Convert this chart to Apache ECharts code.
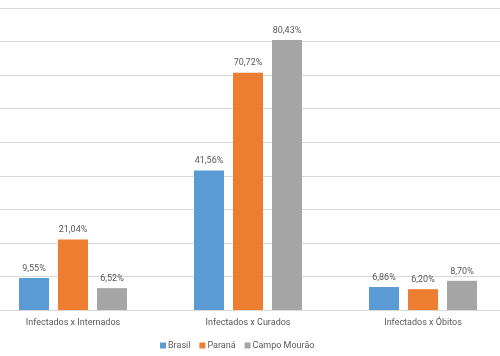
<!DOCTYPE html>
<html><head><meta charset="utf-8">
<script src="https://cdn.jsdelivr.net/npm/echarts@6/dist/echarts.min.js"></script>
<style>html,body{margin:0;padding:0;background:#fff}#c{width:500px;height:356px}</style>
</head><body><div id="c"></div>
<script>
const categories = ['Infectados x Internados', 'Infectados x Curados', 'Infectados x Óbitos'];
const seriesNames = ['Brasil', 'Paraná', 'Campo Mourão'];
const brasil = [9.55, 41.56, 6.86];
const parana = [21.04, 70.72, 6.20];
const campoMourao = [6.52, 80.43, 8.70];
const colors = ['#5B9BD5', '#ED7D31', '#A5A5A5'];
const font = 'Roboto';
const fmt = p => p.value.toFixed(2).replace('.', ',') + '%';
const mk = (name, data, color) => ({
  name, type: 'bar', data, barWidth: 30, barGap: '30%',
  itemStyle: { color },
  label: { show: true, position: 'top', distance: 5, formatter: fmt, color: '#595959', fontSize: 9, fontFamily: font }
});
const chart = echarts.init(document.getElementById('c'));
chart.setOption({
  animation: false,
  grid: { left: -14.5, right: -10.5, top: 8, bottom: 46, containLabel: false, outerBoundsMode: 'none' },
  legend: {
    left: 155, top: 336, itemWidth: 6, itemHeight: 6, itemGap: 9,
    icon: 'rect',
    textStyle: { color: '#595959', fontSize: 9, fontFamily: font, padding: [0, 0, 0, -3] },
    data: seriesNames
  },
  xAxis: {
    type: 'category', data: categories,
    axisLine: { lineStyle: { color: '#D9D9D9' } },
    axisTick: { show: false },
    axisLabel: { color: '#595959', fontSize: 9, fontFamily: font, margin: 8 }
  },
  yAxis: {
    type: 'value', min: 0, max: 90, interval: 10,
    axisLabel: { show: false }, axisLine: { show: false }, axisTick: { show: false },
    splitLine: { lineStyle: { color: '#D9D9D9' } }
  },
  series: [
    mk(seriesNames[0], brasil, colors[0]),
    mk(seriesNames[1], parana, colors[1]),
    mk(seriesNames[2], campoMourao, colors[2])
  ]
});
</script></body></html>
